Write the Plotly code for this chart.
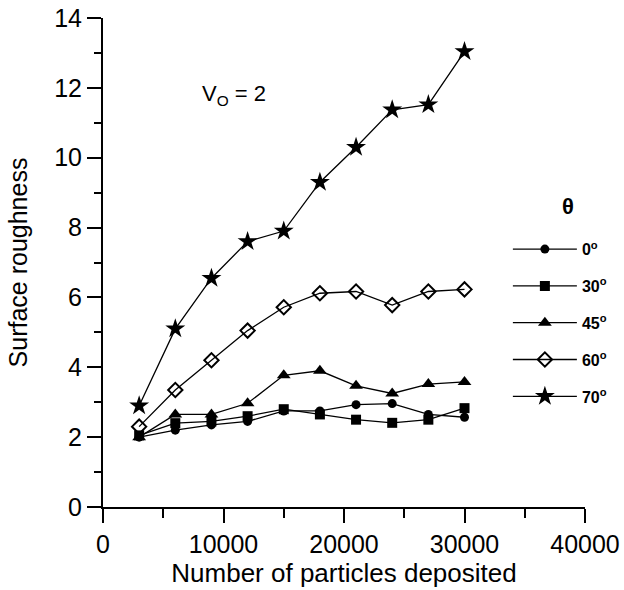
import plotly.graph_objects as go

x_vals = [3000, 6000, 9000, 12000, 15000, 18000, 21000, 24000, 27000, 30000]
theta_labels = ["<b>0<sup>o</sup></b>", "<b>30<sup>o</sup></b>", "<b>45<sup>o</sup></b>",
                "<b>60<sup>o</sup></b>", "<b>70<sup>o</sup></b>"]
r_0 = [2.0, 2.2, 2.35, 2.45, 2.75, 2.75, 2.93, 2.96, 2.65, 2.57]
r_30 = [2.05, 2.4, 2.45, 2.6, 2.8, 2.65, 2.5, 2.41, 2.5, 2.83]
r_45 = [2.0, 2.65, 2.65, 2.97, 3.77, 3.9, 3.47, 3.25, 3.52, 3.58]
r_60 = [2.3, 3.35, 4.2, 5.05, 5.72, 6.12, 6.17, 5.78, 6.17, 6.23]
r_70 = [2.9, 5.1, 6.55, 7.6, 7.9, 9.3, 10.3, 11.37, 11.52, 13.04]

series = [r_0, r_30, r_45, r_60, r_70]
symbols = ["circle", "square", "triangle-up", "diamond-open", "star"]
sizes = [9, 10, 12, 11, 15]

fig = go.Figure()
for i, (ys, sym, lab, sz) in enumerate(zip(series, symbols, theta_labels, sizes)):
    fig.add_trace(go.Scatter(
        x=x_vals, y=ys, mode="lines+markers", name=lab,
        legendgroup=str(i),
        line=dict(color="black", width=1.3),
        marker=dict(symbol=sym, size=sz, color="black",
                    line=dict(color="black", width=2 if "open" in sym else 0)),
    ))

font_family = "Liberation Sans, Arial, sans-serif"
fig.update_layout(
    width=624, height=590,
    margin=dict(l=103, r=39, t=18, b=83, autoexpand=False),
    paper_bgcolor="white", plot_bgcolor="white",
    font=dict(family=font_family, color="black", size=18),
    showlegend=True,
    legend=dict(
        x=0.840, y=0.562, xanchor="left", yanchor="top",
        font=dict(size=16, family=font_family),
        tracegroupgap=13, itemsizing="trace", itemwidth=64,
        bgcolor="rgba(0,0,0,0)",
    ),
    xaxis=dict(
        range=[0, 40000], tickvals=[0, 10000, 20000, 30000, 40000],
        ticktext=["0", "10000", "20000", "30000", "40000"],
        automargin=False,
        showgrid=False, zeroline=False, showline=True, linecolor="black", linewidth=2,
        ticks="outside", ticklen=14, tickwidth=1.5, tickcolor="black",
        minor=dict(dtick=5000, ticks="outside", ticklen=9, tickwidth=1.5, tickcolor="black", showgrid=False),
        tickfont=dict(size=25),
        title=dict(text="Number of particles deposited", font=dict(size=26), standoff=4),
    ),
    yaxis=dict(
        range=[0, 14], dtick=2,
        automargin=False,
        showgrid=False, zeroline=False, showline=True, linecolor="black", linewidth=2,
        ticks="outside", ticklen=14, tickwidth=1.5, tickcolor="black",
        minor=dict(dtick=1, ticks="outside", ticklen=7, tickwidth=1.5, tickcolor="black", showgrid=False),
        tickfont=dict(size=25),
        title=dict(text="Surface roughness", font=dict(size=25), standoff=19),
    ),
    annotations=[
        dict(x=8050, y=11.8, xref="x", yref="y", text="V<sub>O</sub> = 2",
             showarrow=False, xanchor="left", font=dict(size=22)),
        dict(x=0.965, y=0.615, xref="paper", yref="paper", text="<b>θ</b>",
             showarrow=False, xanchor="center", yanchor="middle", font=dict(size=22)),
    ],
)

fig.write_html("out.html")
